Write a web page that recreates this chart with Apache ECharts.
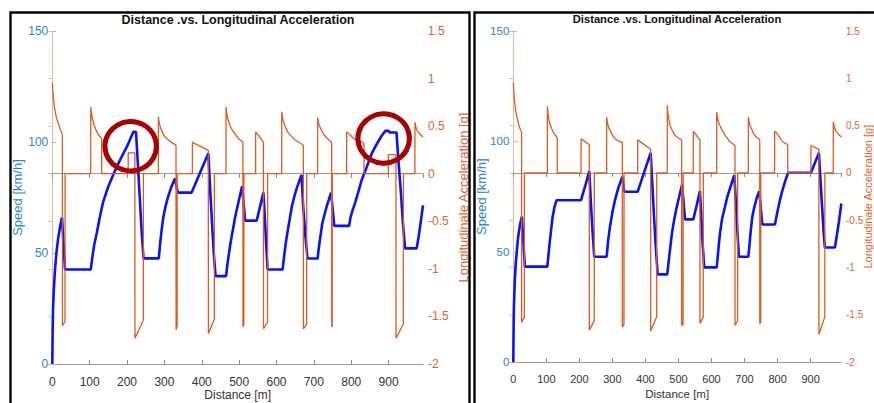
<!DOCTYPE html>
<html>
<head>
<meta charset="utf-8">
<script src="https://cdn.jsdelivr.net/npm/echarts@6/dist/echarts.min.js"></script>
<style>
html,body{margin:0;padding:0;background:#fff;}
#chart{width:874px;height:403px;}
</style>
</head>
<body>
<div id="chart"></div>
<script>
// ---------- data (distance [m], value) ----------
const TITLE = 'Distance .vs. Longitudinal Acceleration';
const X_TICKS = [0, 100, 200, 300, 400, 500, 600, 700, 800, 900];

// Left panel: speed [km/h]
const L_SPEED = [
  [0,0],[1,16],[2,25],[4,33],[7,42],[11,50],[16,57],[21,62],[26,66],
  [34,42.6],[103,42.6],
  [107,48],[112,53.5],[119,59],[127,66],[136,73],[150,80],[165,86],[180,91.5],[200,98],[217,104.6],[224,104.6],
  [229,90],[234,75],[239,60],[244,47.6],[285,47.6],
  [289,55],[293,61],[297,66],[303,71],[310,75.4],[319,80],[328,83.6],
  [336,77.2],[373,77.2],[395,86],[417.6,94.9],
  [422,80],[427,65],[432,50],[437,39.6],[465,39.6],
  [468,44],[472,49],[476,53.5],[480,57.5],[485,62],[489,66],[495,70.5],[501,75],[508,80],
  [516,64.6],[547,64.6],[556,71],[565,77.2],
  [569,65],[573,52],[576,42.6],[616.5,42.6],
  [620,48],[624,53.5],[628,58],[634,64],[641,70.9],[647,75],[654,79.1],[661,82.5],[667,85.1],
  [671,72],[677,58],[683,47.5],[710,47.5],
  [713,52],[717,57],[722.6,63.4],[728,67],[734,70.9],[740,74],[746,77.2],
  [754.7,62.2],[794,62.2],
  [798,66],[803,69],[810,72.5],[818,77],[828,82.9],[841,88.5],[855,94.9],[868,99],[881,102.7],[891,105],[900,105],[903,104.3],[921,104.3],
  [927,90],[933,77],[938,64],[944,52.1],[975,52.1],
  [980,57],[986,64],[992,71.5]
];

// Left panel: longitudinal acceleration [g]
const L_ACC = [
  [0,0.95],[2,0.84],[4,0.75],[7,0.67],[11,0.59],[16,0.53],[21,0.47],[27,0.41],
  [27.2,-1.6],[34,-1.55],[34.2,0],[102.8,0],
  [103,0.70],[105,0.63],[108,0.57],[112,0.51],[118,0.45],[125,0.40],[132,0.37],[132.2,0],
  [203,0],[203.2,0.22],[221,0.22],[221.2,-1.73],[243.6,-1.54],[243.8,0],
  [283.8,0],[284,0.60],[286,0.54],[289,0.49],[293,0.45],[299,0.40],[306,0.37],[318,0.33],[331,0.30],
  [331.2,-1.64],[334,-1.6],[334.2,0],
  [374.8,0],[375,0.33],[417.5,0.245],[417.7,-1.68],[433.6,-1.53],[433.8,0],
  [464.8,0],[465,0.70],[467,0.63],[470,0.57],[475,0.51],[481,0.46],[489,0.42],[498,0.37],[510,0.33],
  [510.2,-1.61],[512.5,-1.58],[512.7,0],
  [544,0],[544.2,0.44],[550,0.41],[558,0.37],[565,0.33],[565.2,-1.63],[576,-1.56],[576.2,0],
  [613.8,0],[614,0.65],[616,0.59],[619,0.54],[624,0.49],[630,0.44],[638,0.40],[648,0.36],[660,0.33],[671.8,0.30],
  [672,-1.63],[680.6,-1.58],[680.8,0],
  [709.8,0],[710,0.59],[712,0.54],[715,0.50],[720,0.46],[727,0.41],[736,0.37],[747.5,0.33],
  [747.7,-1.61],[749,-1.6],[749.2,0],
  [787.6,0],[787.8,0.44],[796,0.41],[810,0.36],[825,0.34],[834,0.32],[834.2,0],
  [899,0],[899.2,0.20],[919.7,0.20],[919.9,-1.73],[939.4,-1.58],[939.6,0],
  [970.3,0],[970.5,0.54],[973,0.49],[977,0.45],[983,0.42],[992,0.385]
];

// Right panel: speed [km/h]
const R_SPEED = [
  [0,0],[1,17],[2,26],[4,35],[7,44],[11,51],[15,57],[20,62],[26,66],
  [35,43.3],[103,43.3],
  [106,48],[111,55.3],[119,65.9],[125,70.5],[131,73.4],[205,73.4],
  [218,80],[230,86.6],[235,72],[240,59],[245,47.8],[282.6,47.8],
  [287,55],[292.7,61.4],[300,68],[307.8,73.4],[318,79],[330,84],[336,77.2],[376.4,77.2],
  [396,86],[415.8,94.8],[421,80],[426,66],[431,53],[437,39.8],[466,39.8],
  [469,44],[472,48],[476,53],[479,57],[484,62],[489,66],[495,70.5],[503,75.5],[511,80.5],
  [519.7,64.7],[544.8,64.7],[555,71],[565,77.5],[569,66],[573,54],[578,43],[615.6,43],
  [619,48],[622,53],[625.6,58.4],[632,65],[640.8,70.4],[648,75],[656,78.7],[663,82],[669,84.7],
  [674,72],[678,60],[683,47.8],[711.4,47.8],
  [715,53],[719,60],[723.5,65.9],[730,70.5],[737,74.5],[744.7,77.5],[753.7,62.4],[792,62.4],
  [800,68.5],[807,73.4],[815,78],[823,82],[832,85.8],[901,85.8],[925,94.8],
  [930,82],[935,70],[939,60],[943,52],[973.6,52],[980,58],[986,64],[993,71.9]
];

// Right panel: longitudinal acceleration [g]
const R_ACC = [
  [0,0.95],[2,0.84],[4,0.75],[7,0.66],[11,0.59],[15,0.53],[20,0.47],[25,0.43],
  [25.2,-1.58],[33.4,-1.52],[33.6,0],[103,0],
  [103.2,0.705],[105,0.63],[108,0.56],[111,0.52],[116,0.47],[121,0.43],[127,0.40],[133,0.37],[133.2,0],
  [205,0],[205.2,0.36],[230,0.30],[230.2,-1.66],[245,-1.56],[245.2,0],
  [282.6,0],[282.8,0.59],[285,0.53],[289,0.48],[293,0.45],[300,0.40],[308,0.36],[318,0.34],[330,0.32],
  [330.2,-1.63],[335,-1.6],[335.2,0],
  [376.4,0],[376.6,0.35],[415.8,0.25],[416,-1.67],[434,-1.52],[434.2,0],
  [466,0],[466.2,0.715],[468,0.63],[471,0.56],[475,0.50],[481,0.45],[489,0.40],[499,0.37],[509.6,0.35],
  [509.8,-1.61],[514,-1.6],[514.2,0],
  [544.8,0],[545,0.44],[550,0.42],[558,0.38],[565,0.35],[565.2,-1.59],[575,-1.52],[575.2,0],
  [615.6,0],[615.8,0.645],[618,0.59],[621,0.54],[625.6,0.50],[632,0.45],[640.8,0.40],[655.9,0.33],[671,0.29],
  [671.2,-1.61],[679,-1.56],[679.2,0],
  [711.4,0],[711.6,0.59],[715,0.52],[718,0.49],[722,0.46],[728,0.41],[736,0.38],[746,0.35],
  [746.2,-1.59],[749,-1.58],[749.2,0],
  [791,0],[791.2,0.44],[798,0.42],[806,0.38],[815,0.33],[830.6,0.30],[830.8,0],
  [901,0],[901.2,0.29],[925,0.25],[925.2,-1.705],[943,-1.52],[943.2,0],
  [968.5,0],[968.7,0.54],[972,0.48],[977,0.44],[984,0.41],[993,0.38]
];

// Highlight circles on the left panel (distance, speed)
const CIRCLES = [[209.8, 98.1], [886.8, 101.6]];

// ---------- chart ----------
const FONT = '"Liberation Sans", Arial, Helvetica, sans-serif';
const BLUE_TXT = '#2a86c8', ORANGE_TXT = '#dc6530';
const chart = echarts.init(document.getElementById('chart'), null, {renderer: 'svg'});

function xAxes(grid, fs, nameFs, margin, nameGap) {
  return [
    {
      gridIndex: grid, type: 'value', min: 0, max: 992, interval: 100, position: 'bottom',
      axisLine: {show: true, lineStyle: {color: '#999', width: 1}},
      axisTick: {show: true, inside: true, length: 4, lineStyle: {color: '#888'}},
      axisLabel: {color: '#333', fontSize: fs, fontFamily: FONT, margin: margin, showMaxLabel: false,
        formatter: v => X_TICKS.indexOf(v) >= 0 ? String(v) : ''},
      splitLine: {show: false},
      name: 'Distance [m]', nameLocation: 'middle', nameGap: nameGap, nameMoveOverlap: false,
      nameTextStyle: {color: '#333', fontSize: nameFs, fontFamily: FONT}
    },
    {
      gridIndex: grid, type: 'value', min: 0, max: 992, interval: 100, position: 'top',
      axisLine: {show: true, lineStyle: {color: '#999', width: 1}},
      axisTick: {show: true, inside: true, length: 4, lineStyle: {color: '#888'}},
      axisLabel: {show: false}, splitLine: {show: false}
    }
  ];
}
function yAxes(grid, fs, fsR, nameFs, nameFsR, gapL, gapR) {
  return [
    {
      gridIndex: grid, type: 'value', min: 0, max: 150, interval: 50, position: 'left',
      axisLine: {show: true, lineStyle: {color: '#8cc4e8', width: 1}},
      axisTick: {show: true, inside: true, length: 4, lineStyle: {color: '#8cc4e8'}},
      axisLabel: {color: BLUE_TXT, fontSize: fs, fontFamily: FONT, margin: 4},
      splitLine: {show: false},
      name: 'Speed [km/h]', nameLocation: 'middle', nameRotate: 90, nameGap: gapL, nameMoveOverlap: false,
      nameTextStyle: {color: BLUE_TXT, fontSize: nameFs, fontFamily: FONT}
    },
    {
      gridIndex: grid, type: 'value', min: -2, max: 1.5, interval: 0.5, position: 'right',
      axisLine: {show: true, lineStyle: {color: '#efb895', width: 1}},
      axisTick: {show: true, inside: true, length: 4, lineStyle: {color: '#efb895'}},
      axisLabel: {color: ORANGE_TXT, fontSize: fsR, fontFamily: FONT, margin: 5},
      splitLine: {show: false},
      name: 'Longitudinale Acceleration [g]', nameLocation: 'middle', nameRotate: 90, nameGap: gapR, nameMoveOverlap: false,
      nameTextStyle: {color: ORANGE_TXT, fontSize: nameFsR, fontFamily: FONT}
    }
  ];
}

const option = {
  backgroundColor: '#fff',
  animation: false,
  title: [
    {text: TITLE, left: 238, top: 13, padding: 0, textAlign: 'center',
     textStyle: {fontSize: 12.5, fontWeight: 'bold', color: '#111', fontFamily: FONT}},
    {text: TITLE, left: 677, top: 13, padding: 0, textAlign: 'center',
     textStyle: {fontSize: 11.2, fontWeight: 'bold', color: '#111', fontFamily: FONT}}
  ],
  grid: [
    {left: 52.3, top: 31, width: 370.7, height: 333, containLabel: false, outerBoundsMode: 'none'},
    {left: 513.3, top: 31, width: 327.7, height: 331.3, containLabel: false, outerBoundsMode: 'none'}
  ],
  xAxis: [...xAxes(0, 12, 12, 12, 25), ...xAxes(1, 11, 11.5, 11, 26)],
  yAxis: [...yAxes(0, 12, 12, 13, 13, 28, 34), ...yAxes(1, 11.5, 10, 13, 11, 25, 21)],
  series: [
    {type: 'line', xAxisIndex: 0, yAxisIndex: 0, data: L_SPEED, showSymbol: false, z: 2,
     lineStyle: {color: '#0a14f0', width: 2.6}},
    {type: 'line', xAxisIndex: 0, yAxisIndex: 1, data: L_ACC, showSymbol: false, z: 3,
     lineStyle: {color: '#dd5a20', width: 1.3}},
    {type: 'scatter', xAxisIndex: 0, yAxisIndex: 0, data: CIRCLES, symbol: 'circle', symbolSize: [51.5, 49.5], z: 10,
     itemStyle: {color: 'rgba(0,0,0,0)', borderColor: '#a80000', borderWidth: 5, opacity: 1}},
    {type: 'line', xAxisIndex: 2, yAxisIndex: 2, data: R_SPEED, showSymbol: false, z: 2,
     lineStyle: {color: '#0a14f0', width: 2.6}},
    {type: 'line', xAxisIndex: 2, yAxisIndex: 3, data: R_ACC, showSymbol: false, z: 3,
     lineStyle: {color: '#dd5a20', width: 1.3}}
  ],
  graphic: [
    {type: 'rect', shape: {x: 10.5, y: 12.5, width: 459, height: 420}, silent: true,
     style: {fill: 'none', stroke: '#000', lineWidth: 2.4}, z: 100},
    {type: 'rect', shape: {x: 474.5, y: 12.5, width: 420, height: 420}, silent: true,
     style: {fill: 'none', stroke: '#000', lineWidth: 2.4}, z: 100}
  ]
};
chart.setOption(option);
</script>
</body>
</html>
